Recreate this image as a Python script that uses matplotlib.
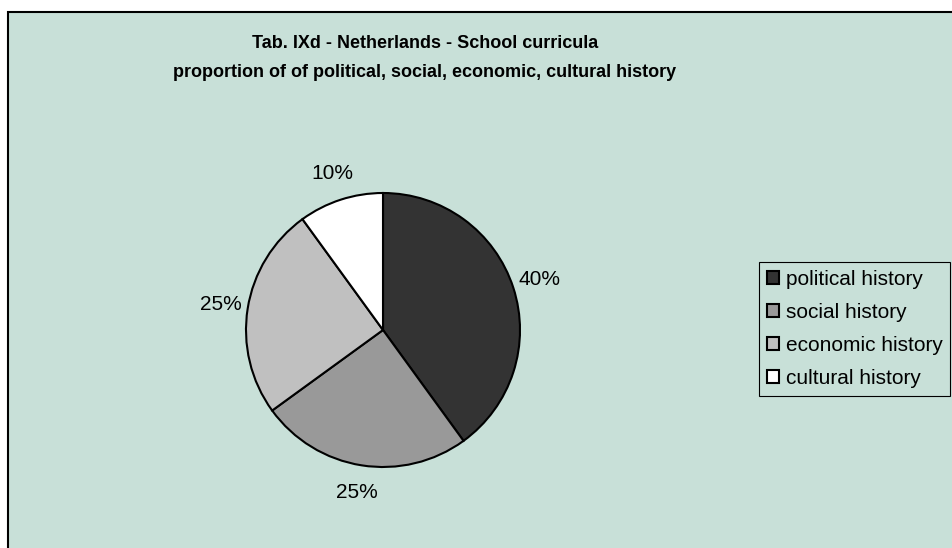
import matplotlib.pyplot as plt
from matplotlib.patches import Rectangle

# --- Data ---
categories = ['political history', 'social history', 'economic history', 'cultural history']
shares = [40, 25, 25, 10]
slice_colors = ['#333333', '#999999', '#c0c0c0', '#ffffff']
title_lines = ['Tab. IXd - Netherlands - School curricula',
               'proportion of of political, social, economic, cultural history']

BG = '#c8e0d8'
W, H = 953, 548

plt.rcParams['font.family'] = ['Liberation Sans', 'DejaVu Sans']

fig = plt.figure(figsize=(W / 100, H / 100), dpi=100, facecolor='white')

# chart area with black frame (runs off the right and bottom edges)
fig.patches.append(Rectangle((8 / W, -0.01), 1.0, (H - 12) / H + 0.01,
                             transform=fig.transFigure, facecolor=BG,
                             edgecolor='black', linewidth=1.5, zorder=-5))

# pie axes: center at (383, 330) px, radius 137 px
R = 137
side = 400
cx, cy = 383, H - 330
ax = fig.add_axes([(cx - side / 2) / W, (cy - side / 2) / H, side / W, side / H])
ax.set_zorder(2)
ax.set_axis_off()

wedges, _, pct_texts = ax.pie(shares, colors=slice_colors, startangle=90, counterclock=False,
                              autopct='%1.0f%%', pctdistance=1.2, radius=1,
                              wedgeprops=dict(edgecolor='black', linewidth=1.5),
                              textprops=dict(fontsize=15, color='black'))
lim = side / 2 / R
ax.set_xlim(-lim, lim)
ax.set_ylim(-lim, lim)
ax.set_aspect('equal')

# title
fig.text(425 / W, 1 - 44 / H, title_lines[0], ha='center', va='center',
         fontsize=13, fontweight='bold')
fig.text(425 / W, 1 - 72 / H, title_lines[1], ha='center', va='center',
         fontsize=13, fontweight='bold')

# legend
leg = fig.legend(wedges, categories, loc='upper left',
                 bbox_to_anchor=(759 / W, 1 - 262 / H), fontsize=15,
                 frameon=True, fancybox=False, handlelength=0.6, handleheight=0.6,
                 handletextpad=0.3, labelspacing=0.67, borderpad=0.38, borderaxespad=0)
leg.set_zorder(3)
frame = leg.get_frame()
frame.set_facecolor(BG)
frame.set_edgecolor('black')
frame.set_linewidth(0.8)
frame.set_alpha(1)

fig.savefig('out.png', dpi=100, facecolor='white')
